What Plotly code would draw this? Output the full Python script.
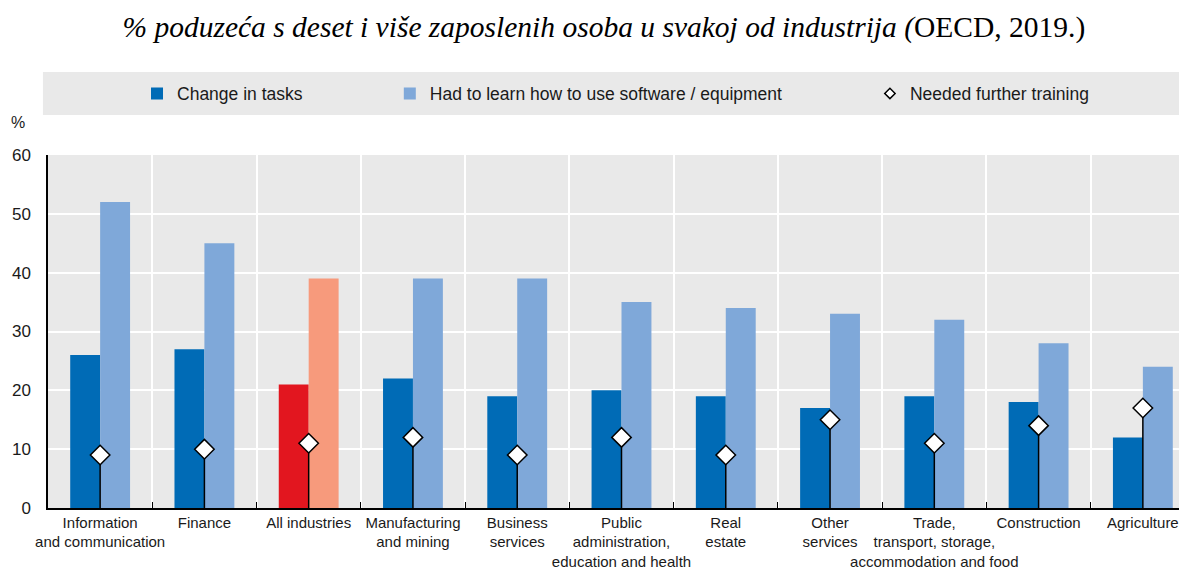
import plotly.graph_objects as go

BG_GREY = "#e9e9e9"
DARK    = "#006bb6"
LIGHT   = "#7fa8d9"
RED     = "#e2161f"
SALMON  = "#f79a7c"
TEXT    = "#1a1a1a"
FONT    = "Liberation Sans, Arial, sans-serif"

categories = [
    "Information<br>and communication",
    "Finance",
    "All industries",
    "Manufacturing<br>and mining",
    "Business<br>services",
    "Public<br>administration,<br>education and health",
    "Real<br>estate",
    "Other<br>services",
    "Trade,<br>transport, storage,<br>accommodation and food",
    "Construction",
    "Agriculture",
]
change_in_tasks = [26, 27, 21, 22, 19, 20, 19, 17, 19, 18, 12]
learn_software  = [52, 45, 39, 39, 39, 35, 34, 33, 32, 28, 24]
further_training = [9, 10, 11, 12, 9, 12, 9, 15, 11, 14, 17]
highlight = "All industries"

dark_colors  = [RED if c == highlight else DARK for c in categories]
light_colors = [SALMON if c == highlight else LIGHT for c in categories]

fig = go.Figure()

fig.add_trace(go.Bar(
    x=categories, y=change_in_tasks, name="Change in tasks",
    marker=dict(color=dark_colors, line=dict(width=0)),
    legend="legend",
))
fig.add_trace(go.Bar(
    x=categories, y=learn_software,
    name="Had to learn how to use software / equipment",
    marker=dict(color=light_colors, line=dict(width=0)),
    legend="legend2",
))
fig.add_trace(go.Scatter(
    x=categories, y=further_training, mode="markers",
    showlegend=False,
    marker=dict(symbol="diamond", size=15, color="white",
                line=dict(color="black", width=1.5)),
    error_y=dict(type="data", symmetric=False, array=[0] * len(categories),
                 arrayminus=further_training, color="black",
                 thickness=1.5, width=0),
))
# legend-only entry with a smaller diamond
fig.add_trace(go.Scatter(
    x=[None], y=[None], mode="markers", name="Needed further training",
    marker=dict(symbol="diamond", size=8, color="white",
                line=dict(color="black", width=1.5)),
    legend="legend3",
))

legend_common = dict(
    orientation="h", xanchor="left", y=1.174, yanchor="middle",
    bgcolor="rgba(0,0,0,0)", font=dict(size=17.5, color=TEXT),
)

fig.update_layout(
    width=1187, height=573,
    paper_bgcolor="white",
    plot_bgcolor=BG_GREY,
    font=dict(family=FONT, size=15, color=TEXT),
    margin=dict(l=40, r=0, t=147, b=73),
    barmode="group",
    bargap=0.426,
    bargroupgap=0,
    title=dict(
        text="<i>% poduzeća s deset i više zaposlenih osoba u svakoj od industrija (</i>OECD, 2019.)",
        font=dict(family="Liberation Serif, Times New Roman, serif", size=29.5, color="black"),
        x=0.502, xanchor="center", y=0.967, yanchor="middle",
    ),
    legend=dict(x=0.0776, **legend_common),
    legend2=dict(x=0.298, **legend_common),
    legend3=dict(x=0.7166, **legend_common),
    shapes=[dict(
        type="rect", xref="paper", yref="paper",
        x0=-0.0044, x1=1, y0=1.113, y1=1.235,
        fillcolor=BG_GREY, line=dict(width=0), layer="below",
    )],
    annotations=[dict(
        text="%", xref="paper", yref="paper", x=-0.026, y=1.093,
        xanchor="center", yanchor="middle", showarrow=False,
        font=dict(size=16, color=TEXT),
    )],
)

fig.update_xaxes(
    range=[-0.5, 10.5], tickangle=0, automargin=False,
    showline=True, linecolor="black", linewidth=1.5,
    tickson="boundaries", ticks="inside", ticklen=6, tickcolor="black",
    showgrid=True, gridcolor="white", gridwidth=2,
    tickfont=dict(size=15, color=TEXT),
)
fig.update_yaxes(
    range=[0, 60], dtick=10, automargin=False,
    showline=True, linecolor="black", linewidth=1.5,
    showgrid=True, gridcolor="white", gridwidth=2,
    zeroline=False, ticks="", ticklabelstandoff=12,
    tickfont=dict(size=17, color=TEXT),
)

fig.write_html("out.html")
